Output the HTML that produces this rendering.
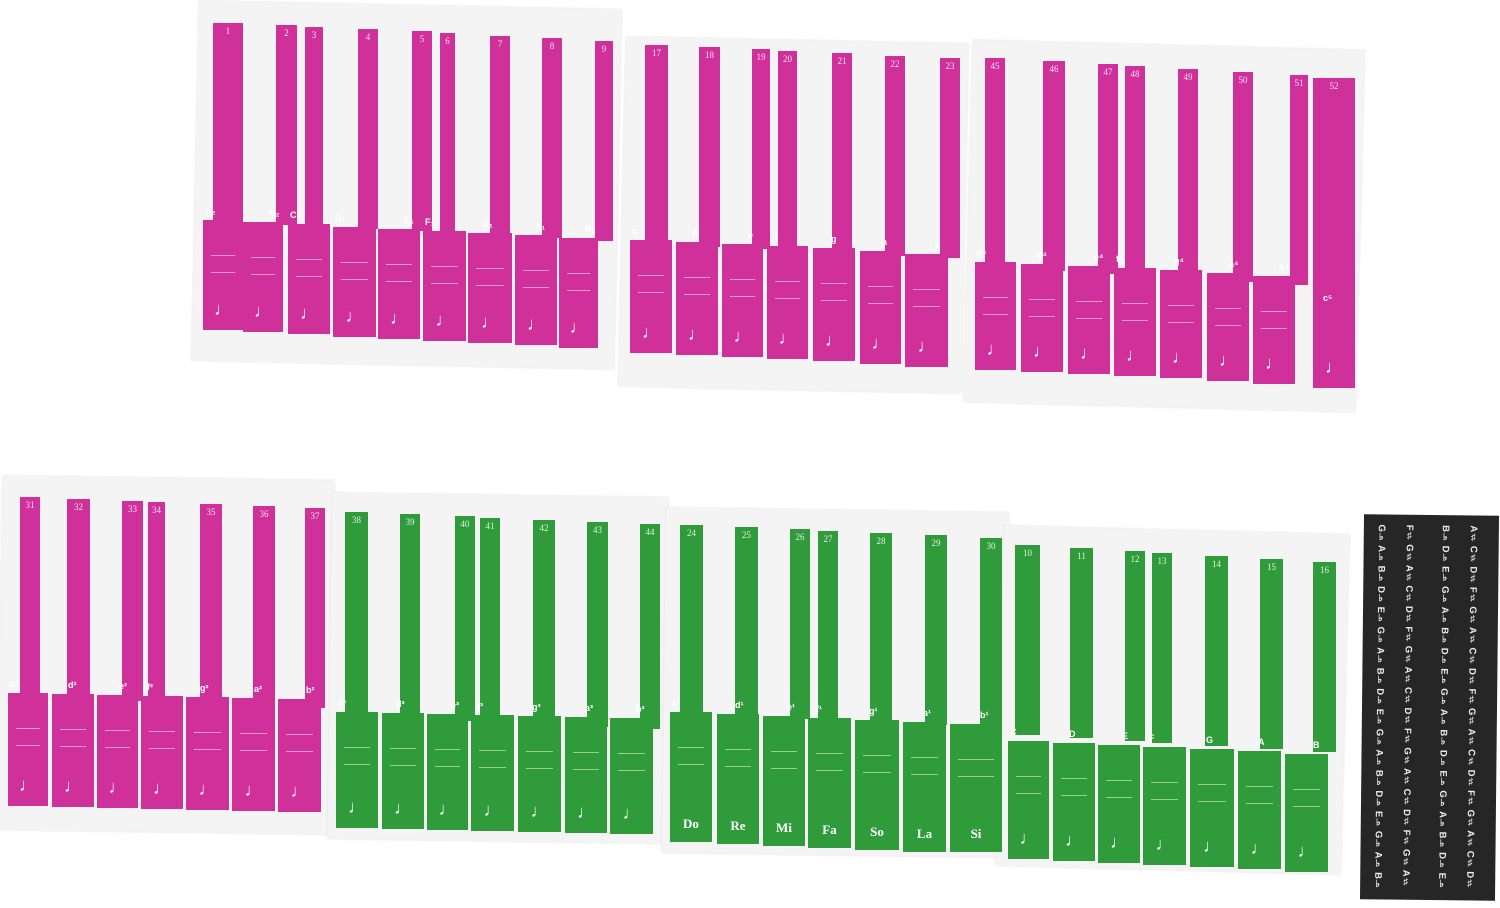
<!DOCTYPE html>
<html><head><meta charset="utf-8"><style>
body{margin:0;width:1500px;height:908px;background:#fff;position:relative;overflow:hidden;font-family:"Liberation Sans",sans-serif}
.sh{position:absolute;background:#f4f4f4;box-shadow:0 0 2px #ddd}
.p,.g{position:absolute}
.p{background:#cf3099}.g{background:#2f9b3b}
.n{position:absolute;color:#fff;font:9px "Liberation Serif",serif;top:3px;width:100%;text-align:center;opacity:.85}
.l{position:absolute;color:#fff;font-weight:bold;font-size:9px;top:-14px;left:2px}
.q{position:absolute;color:#fff;font-size:18px;bottom:10px;width:100%;text-align:center}
.s{position:absolute;left:8px;right:8px;top:35px;height:16px;border-top:1px solid rgba(255,255,255,.5);border-bottom:1px solid rgba(255,255,255,.5)}
.bk{position:absolute;left:1362px;top:515px;width:135px;height:385px;background:#262626;transform:rotate(0.6deg);color:#eee;font-weight:bold;font-size:9.5px;overflow:hidden}
.bk div{position:absolute;top:10px;writing-mode:vertical-rl;white-space:pre;letter-spacing:0}
</style></head><body>
<div class="sh" style="left:195px;top:5px;width:423px;height:360px;transform:rotate(1.2deg)"></div>
<div class="sh" style="left:622px;top:40px;width:343px;height:350px;transform:rotate(1.2deg)"></div>
<div class="sh" style="left:968px;top:45px;width:392px;height:362px;transform:rotate(1.5deg)"></div>
<div class="sh" style="left:0px;top:478px;width:332px;height:354px;transform:rotate(0.8deg)"></div>
<div class="sh" style="left:330px;top:495px;width:336px;height:346px;transform:rotate(0.8deg)"></div>
<div class="sh" style="left:664px;top:510px;width:342px;height:345px;transform:rotate(0.8deg)"></div>
<div class="sh" style="left:1000px;top:530px;width:345px;height:340px;transform:rotate(1.5deg)"></div>

<!-- sheet 1 -->
<div class="p" style="left:213px;top:23px;width:30px;height:200px"><span class="n">1</span></div><div class="p" style="left:203px;top:220px;width:40px;height:110px"><span class="l">A₂</span><div class="s"></div><span class="q">♩</span></div>
<div class="p" style="left:276px;top:25px;width:21px;height:200px"><span class="n">2</span></div><div class="p" style="left:243px;top:222px;width:40px;height:110px"><span class="l" style="left:26px">B₂</span><div class="s"></div><span class="q">♩</span></div>
<div class="p" style="left:305px;top:27px;width:18px;height:200px"><span class="n">3</span></div><div class="p" style="left:288px;top:224px;width:42px;height:110px"><span class="l">C₁</span><div class="s"></div><span class="q">♩</span></div>
<div class="p" style="left:358px;top:29px;width:20px;height:200px"><span class="n">4</span></div><div class="p" style="left:333px;top:227px;width:43px;height:110px"><span class="l">D₁</span><div class="s"></div><span class="q">♩</span></div>
<div class="p" style="left:412px;top:31px;width:20px;height:200px"><span class="n">5</span></div><div class="p" style="left:378px;top:229px;width:42px;height:110px"><span class="l" style="left:26px">E₁</span><div class="s"></div><span class="q">♩</span></div>
<div class="p" style="left:440px;top:33px;width:15px;height:200px"><span class="n">6</span></div><div class="p" style="left:423px;top:231px;width:43px;height:110px"><span class="l">F₁</span><div class="s"></div><span class="q">♩</span></div>
<div class="p" style="left:490px;top:36px;width:20px;height:200px"><span class="n">7</span></div><div class="p" style="left:468px;top:233px;width:44px;height:110px"><span class="l" style="left:14px">G₁</span><div class="s"></div><span class="q">♩</span></div>
<div class="p" style="left:542px;top:38px;width:20px;height:200px"><span class="n">8</span></div><div class="p" style="left:515px;top:235px;width:42px;height:110px"><span class="l" style="left:20px">A₁</span><div class="s"></div><span class="q">♩</span></div>
<div class="p" style="left:595px;top:41px;width:18px;height:200px"><span class="n">9</span></div><div class="p" style="left:559px;top:238px;width:39px;height:110px"><span class="l" style="left:26px">B₁</span><div class="s"></div><span class="q">♩</span></div>

<!-- sheet 2 -->
<div class="p" style="left:645px;top:45px;width:23px;height:200px"><span class="n">17</span></div><div class="p" style="left:630px;top:240px;width:42px;height:113px"><span class="l">c</span><div class="s"></div><span class="q">♩</span></div>
<div class="p" style="left:699px;top:47px;width:21px;height:200px"><span class="n">18</span></div><div class="p" style="left:676px;top:242px;width:42px;height:113px"><span class="l" style="left:16px">d</span><div class="s"></div><span class="q">♩</span></div>
<div class="p" style="left:752px;top:49px;width:18px;height:200px"><span class="n">19</span></div><div class="p" style="left:722px;top:244px;width:41px;height:113px"><span class="l" style="left:26px">e</span><div class="s"></div><span class="q">♩</span></div>
<div class="p" style="left:778px;top:51px;width:19px;height:200px"><span class="n">20</span></div><div class="p" style="left:767px;top:246px;width:41px;height:113px"><span class="l" style="left:8px">f</span><div class="s"></div><span class="q">♩</span></div>
<div class="p" style="left:832px;top:53px;width:20px;height:200px"><span class="n">21</span></div><div class="p" style="left:813px;top:248px;width:42px;height:113px"><span class="l" style="left:18px">g</span><div class="s"></div><span class="q">♩</span></div>
<div class="p" style="left:885px;top:56px;width:20px;height:200px"><span class="n">22</span></div><div class="p" style="left:860px;top:251px;width:41px;height:113px"><span class="l" style="left:22px">a</span><div class="s"></div><span class="q">♩</span></div>
<div class="p" style="left:940px;top:58px;width:20px;height:200px"><span class="n">23</span></div><div class="p" style="left:905px;top:254px;width:43px;height:113px"><span class="l" style="left:30px">b</span><div class="s"></div><span class="q">♩</span></div>

<!-- sheet 3 -->
<div class="p" style="left:985px;top:58px;width:20px;height:210px"><span class="n">45</span></div><div class="p" style="left:975px;top:262px;width:41px;height:108px"><span class="l">c⁴</span><div class="s"></div><span class="q">♩</span></div>
<div class="p" style="left:1043px;top:61px;width:22px;height:210px"><span class="n">46</span></div><div class="p" style="left:1021px;top:264px;width:42px;height:108px"><span class="l" style="left:16px">d⁴</span><div class="s"></div><span class="q">♩</span></div>
<div class="p" style="left:1098px;top:64px;width:20px;height:210px"><span class="n">47</span></div><div class="p" style="left:1068px;top:266px;width:42px;height:108px"><span class="l" style="left:26px">e⁴</span><div class="s"></div><span class="q">♩</span></div>
<div class="p" style="left:1125px;top:66px;width:20px;height:210px"><span class="n">48</span></div><div class="p" style="left:1114px;top:268px;width:42px;height:108px"><span class="l">f⁴</span><div class="s"></div><span class="q">♩</span></div>
<div class="p" style="left:1178px;top:69px;width:20px;height:210px"><span class="n">49</span></div><div class="p" style="left:1160px;top:270px;width:42px;height:108px"><span class="l" style="left:14px">g⁴</span><div class="s"></div><span class="q">♩</span></div>
<div class="p" style="left:1233px;top:72px;width:20px;height:210px"><span class="n">50</span></div><div class="p" style="left:1207px;top:273px;width:42px;height:108px"><span class="l" style="left:22px">a⁴</span><div class="s"></div><span class="q">♩</span></div>
<div class="p" style="left:1290px;top:75px;width:18px;height:210px"><span class="n">51</span></div><div class="p" style="left:1253px;top:276px;width:42px;height:108px"><span class="l" style="left:26px">b⁴</span><div class="s"></div><span class="q">♩</span></div>
<div class="p" style="left:1313px;top:78px;width:42px;height:310px"><span class="n">52</span><span class="l" style="top:215px;left:10px">c⁵</span><span class="q">♩</span></div>

<!-- sheet 4 pink -->
<div class="p" style="left:20px;top:497px;width:20px;height:200px"><span class="n">31</span></div><div class="p" style="left:8px;top:693px;width:40px;height:113px"><span class="l">c²</span><div class="s"></div><span class="q">♩</span></div>
<div class="p" style="left:67px;top:499px;width:23px;height:200px"><span class="n">32</span></div><div class="p" style="left:52px;top:694px;width:42px;height:113px"><span class="l" style="left:16px">d²</span><div class="s"></div><span class="q">♩</span></div>
<div class="p" style="left:122px;top:501px;width:21px;height:200px"><span class="n">33</span></div><div class="p" style="left:97px;top:695px;width:41px;height:113px"><span class="l" style="left:22px">e²</span><div class="s"></div><span class="q">♩</span></div>
<div class="p" style="left:148px;top:502px;width:17px;height:200px"><span class="n">34</span></div><div class="p" style="left:141px;top:696px;width:42px;height:113px"><span class="l" style="left:6px">f²</span><div class="s"></div><span class="q">♩</span></div>
<div class="p" style="left:200px;top:504px;width:22px;height:200px"><span class="n">35</span></div><div class="p" style="left:186px;top:697px;width:43px;height:113px"><span class="l" style="left:14px">g²</span><div class="s"></div><span class="q">♩</span></div>
<div class="p" style="left:253px;top:506px;width:22px;height:200px"><span class="n">36</span></div><div class="p" style="left:232px;top:698px;width:43px;height:113px"><span class="l" style="left:22px">a²</span><div class="s"></div><span class="q">♩</span></div>
<div class="p" style="left:305px;top:508px;width:20px;height:200px"><span class="n">37</span></div><div class="p" style="left:278px;top:699px;width:43px;height:113px"><span class="l" style="left:28px">b²</span><div class="s"></div><span class="q">♩</span></div>

<!-- sheet 5 green -->
<div class="g" style="left:345px;top:512px;width:23px;height:205px"><span class="n">38</span></div><div class="g" style="left:336px;top:712px;width:42px;height:116px"><span class="l">c³</span><div class="s"></div><span class="q">♩</span></div>
<div class="g" style="left:400px;top:514px;width:20px;height:205px"><span class="n">39</span></div><div class="g" style="left:382px;top:713px;width:42px;height:116px"><span class="l" style="left:14px">d³</span><div class="s"></div><span class="q">♩</span></div>
<div class="g" style="left:455px;top:516px;width:20px;height:205px"><span class="n">40</span></div><div class="g" style="left:427px;top:714px;width:41px;height:116px"><span class="l" style="left:24px">e³</span><div class="s"></div><span class="q">♩</span></div>
<div class="g" style="left:480px;top:518px;width:20px;height:205px"><span class="n">41</span></div><div class="g" style="left:471px;top:715px;width:43px;height:116px"><span class="l" style="left:6px">f³</span><div class="s"></div><span class="q">♩</span></div>
<div class="g" style="left:533px;top:520px;width:22px;height:205px"><span class="n">42</span></div><div class="g" style="left:518px;top:716px;width:43px;height:116px"><span class="l" style="left:14px">g³</span><div class="s"></div><span class="q">♩</span></div>
<div class="g" style="left:587px;top:522px;width:21px;height:205px"><span class="n">43</span></div><div class="g" style="left:565px;top:717px;width:42px;height:116px"><span class="l" style="left:20px">a³</span><div class="s"></div><span class="q">♩</span></div>
<div class="g" style="left:640px;top:524px;width:20px;height:205px"><span class="n">44</span></div><div class="g" style="left:610px;top:718px;width:43px;height:116px"><span class="l" style="left:26px">b³</span><div class="s"></div><span class="q">♩</span></div>

<!-- sheet 6 green -->
<div class="g" style="left:680px;top:525px;width:23px;height:190px"><span class="n">24</span></div><div class="g" style="left:670px;top:712px;width:42px;height:130px"><span class="l">c¹</span><div class="s"></div><span class="q" style="font:bold 13px 'Liberation Serif',serif">Do</span></div>
<div class="g" style="left:735px;top:527px;width:23px;height:190px"><span class="n">25</span></div><div class="g" style="left:717px;top:714px;width:42px;height:130px"><span class="l" style="left:18px">d¹</span><div class="s"></div><span class="q" style="font:bold 13px 'Liberation Serif',serif">Re</span></div>
<div class="g" style="left:790px;top:529px;width:20px;height:190px"><span class="n">26</span></div><div class="g" style="left:763px;top:716px;width:42px;height:130px"><span class="l" style="left:24px">e¹</span><div class="s"></div><span class="q" style="font:bold 13px 'Liberation Serif',serif">Mi</span></div>
<div class="g" style="left:818px;top:531px;width:20px;height:190px"><span class="n">27</span></div><div class="g" style="left:808px;top:718px;width:43px;height:130px"><span class="l" style="left:8px">f¹</span><div class="s"></div><span class="q" style="font:bold 13px 'Liberation Serif',serif">Fa</span></div>
<div class="g" style="left:870px;top:533px;width:22px;height:190px"><span class="n">28</span></div><div class="g" style="left:855px;top:720px;width:44px;height:130px"><span class="l" style="left:14px">g¹</span><div class="s"></div><span class="q" style="font:bold 13px 'Liberation Serif',serif">So</span></div>
<div class="g" style="left:925px;top:535px;width:22px;height:190px"><span class="n">29</span></div><div class="g" style="left:903px;top:722px;width:43px;height:130px"><span class="l" style="left:20px">a¹</span><div class="s"></div><span class="q" style="font:bold 13px 'Liberation Serif',serif">La</span></div>
<div class="g" style="left:980px;top:538px;width:22px;height:190px"><span class="n">30</span></div><div class="g" style="left:950px;top:724px;width:52px;height:128px"><span class="l" style="left:30px">b¹</span><div class="s"></div><span class="q" style="font:bold 13px 'Liberation Serif',serif">Si</span></div>

<!-- sheet 7 green -->
<div class="g" style="left:1015px;top:545px;width:25px;height:190px"><span class="n">10</span></div><div class="g" style="left:1008px;top:741px;width:41px;height:118px"><span class="l">C</span><div class="s"></div><span class="q">♩</span></div>
<div class="g" style="left:1070px;top:548px;width:23px;height:190px"><span class="n">11</span></div><div class="g" style="left:1053px;top:743px;width:42px;height:118px"><span class="l" style="left:16px">D</span><div class="s"></div><span class="q">♩</span></div>
<div class="g" style="left:1125px;top:551px;width:20px;height:190px"><span class="n">12</span></div><div class="g" style="left:1098px;top:745px;width:42px;height:118px"><span class="l" style="left:24px">E</span><div class="s"></div><span class="q">♩</span></div>
<div class="g" style="left:1152px;top:553px;width:20px;height:190px"><span class="n">13</span></div><div class="g" style="left:1143px;top:747px;width:43px;height:118px"><span class="l" style="left:6px">F</span><div class="s"></div><span class="q">♩</span></div>
<div class="g" style="left:1205px;top:556px;width:23px;height:190px"><span class="n">14</span></div><div class="g" style="left:1190px;top:749px;width:44px;height:118px"><span class="l" style="left:16px">G</span><div class="s"></div><span class="q">♩</span></div>
<div class="g" style="left:1260px;top:559px;width:23px;height:190px"><span class="n">15</span></div><div class="g" style="left:1238px;top:751px;width:43px;height:118px"><span class="l" style="left:20px">A</span><div class="s"></div><span class="q">♩</span></div>
<div class="g" style="left:1313px;top:562px;width:23px;height:190px"><span class="n">16</span></div><div class="g" style="left:1285px;top:754px;width:43px;height:118px"><span class="l" style="left:28px">B</span><div class="s"></div><span class="q">♩</span></div>

<!-- black sheet -->
<div class="bk">
<div style="left:12px">G♭ A♭ B♭ D♭ E♭ G♭ A♭ B♭ D♭ E♭ G♭ A♭ B♭ D♭ E♭ G♭ A♭ B♭</div>
<div style="left:40px">F♯ G♯ A♯ C♯ D♯ F♯ G♯ A♯ C♯ D♯ F♯ G♯ A♯ C♯ D♯ F♯ G♯ A♯</div>
<div style="left:76px">B♭ D♭ E♭ G♭ A♭ B♭ D♭ E♭ G♭ A♭ B♭ D♭ E♭ G♭ A♭ B♭ D♭ E♭</div>
<div style="left:104px">A♯ C♯ D♯ F♯ G♯ A♯ C♯ D♯ F♯ G♯ A♯ C♯ D♯ F♯ G♯ A♯ C♯ D♯</div>
</div>
</body></html>
